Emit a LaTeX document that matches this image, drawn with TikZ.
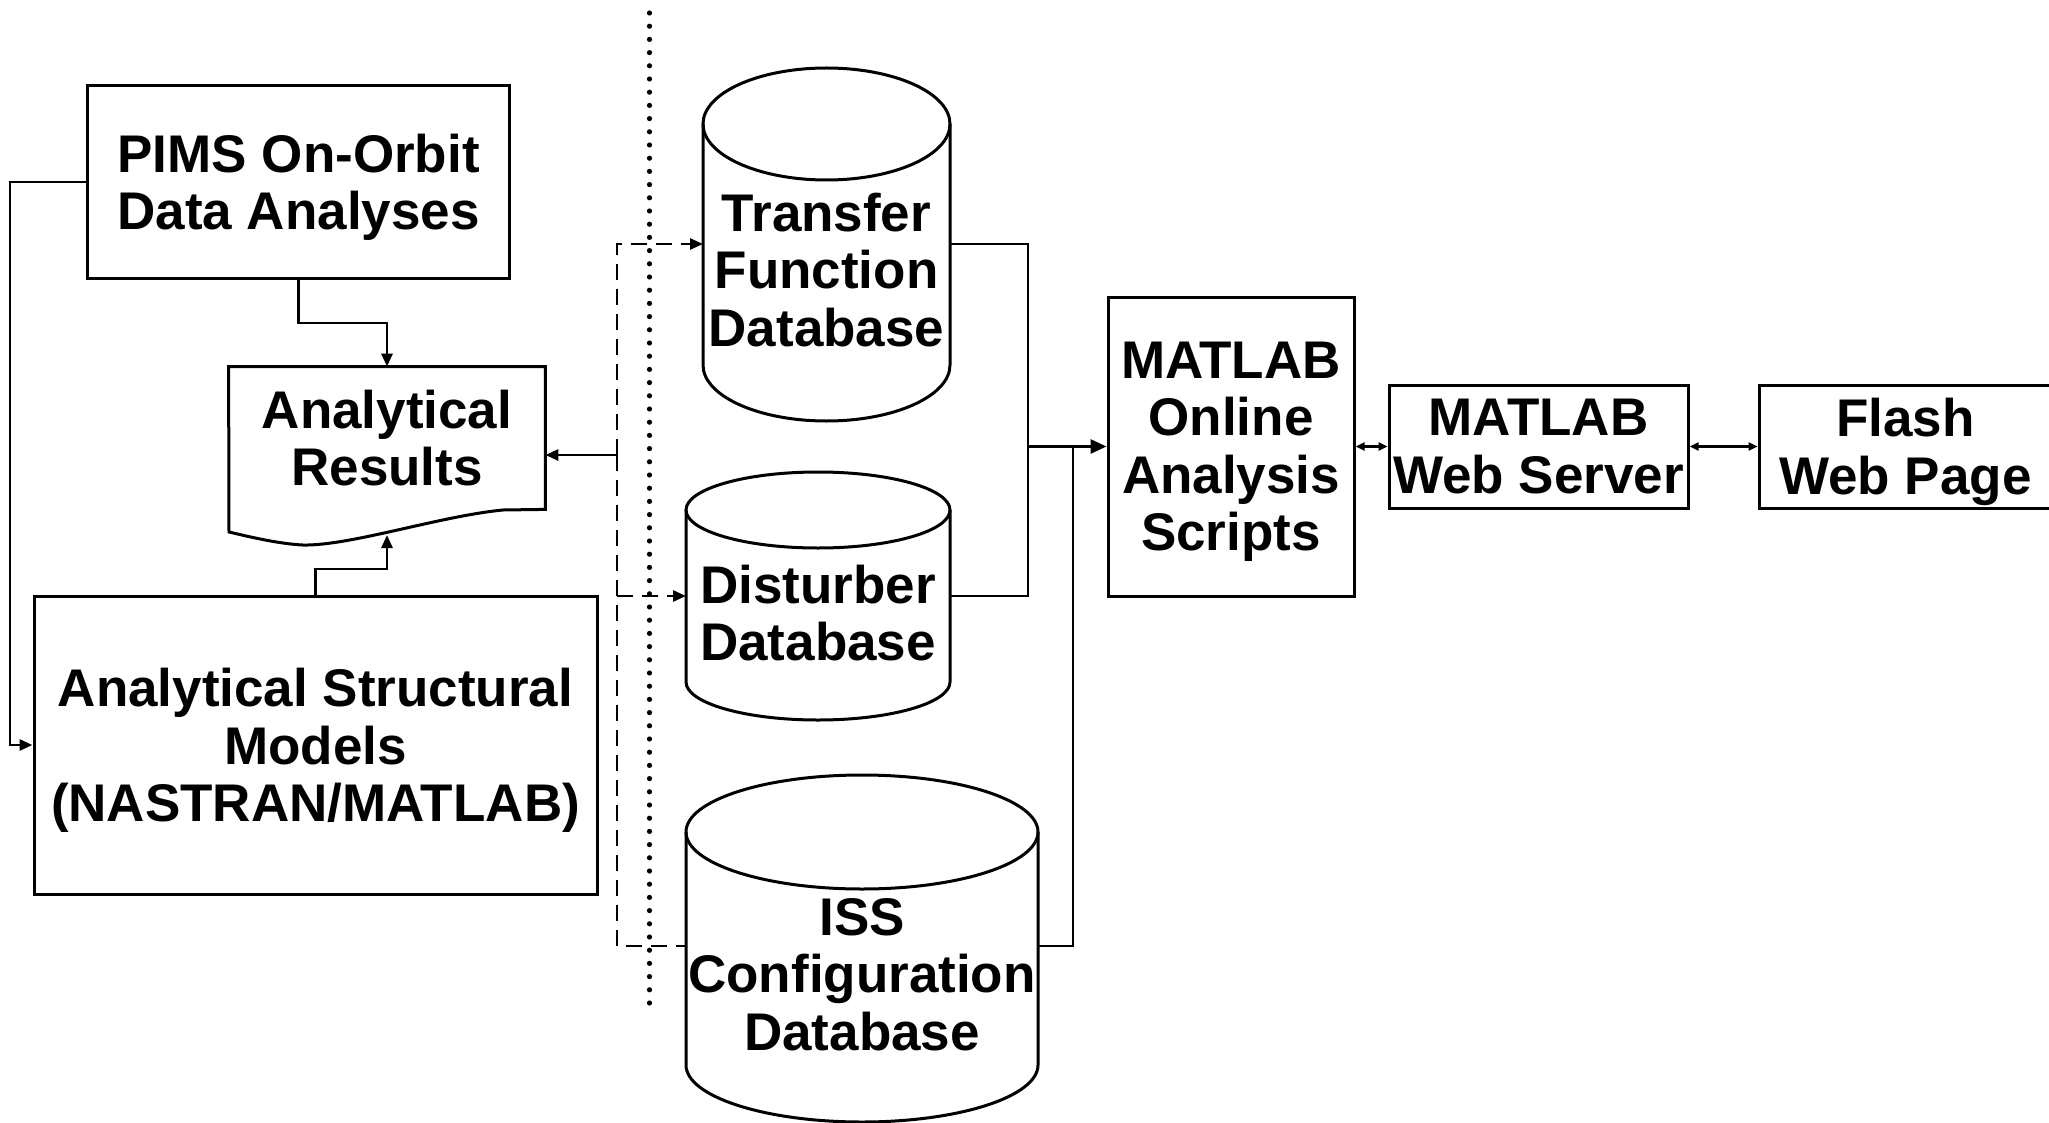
\documentclass[tikz,border=0pt]{standalone}
\usepackage{fontspec}
\setmainfont{Liberation Sans}
\usetikzlibrary{arrows.meta,calc}
\newcommand\dbcyl[5]{%
  \draw[box] (#1,#2) ellipse[x radius=#4, y radius=#5];
  \draw[box] ({#1-#4},#2) -- ({#1-#4},#3) arc[start angle=180,end angle=360,x radius=#4,y radius=#5] -- ({#1+#4},#2);
}
\begin{document}
\begin{tikzpicture}[x=0.5pt,y=0.5pt,
  box/.style={draw, line width=1.5pt},
  lbl/.style={font=\bfseries\fontsize{26.5}{28.75}\selectfont, align=center, inner sep=0pt, text depth=0pt},
  conn/.style={line width=1.4pt},
  arr/.style={conn,-{Triangle[length=6.5pt,width=5.5pt]}},
  bigarr/.style={conn,-{Triangle[length=8pt,width=7pt]}},
  darr/.style={conn,{Triangle[length=4.5pt,width=4pt]}-{Triangle[length=4.5pt,width=4pt]}},
  dsh/.style={conn,dash pattern=on 8pt off 4.5pt},
  dsharr/.style={dsh,-{Triangle[length=6.5pt,width=5.5pt]}},
  dotln/.style={line width=2.6pt, line cap=round, dash pattern=on 0pt off 6.6pt}]
\clip (0,0) rectangle (2049,-1123);

% boxes
\node[box,lbl,minimum width=211pt,minimum height=96pt] (pims) at (298.6,-182) {PIMS On-Orbit\\Data Analyses};
\node[lbl,minimum width=158pt,minimum height=71pt] (ar) at (387,-438) {Analytical\\Results};
\draw[box] (ar.north west) -- (ar.north east) -- (ar.south east) -- (503,-510)
  .. controls (440,-516) and (350,-546) .. (303,-545)
  .. controls (280,-544) and (250,-537) .. (229,-532) -- cycle;
\node[box,lbl,minimum width=281.5pt,minimum height=149pt] (as) at (315.5,-745) {Analytical Structural\\Models\\(NASTRAN/MATLAB)};
\node[box,lbl,minimum width=123pt,minimum height=149.5pt] (mo) at (1231,-446.5) {MATLAB\\Online\\Analysis\\Scripts};
\node[box,lbl,minimum width=149.5pt,minimum height=61.5pt] (ws) at (1538.5,-446.5) {MATLAB\\Web Server};
\node[box,lbl,minimum width=146.5pt,minimum height=61.5pt] (fl) at (1905.5,-446.5) {Flash\\Web Page};

% databases
\dbcyl{826.5}{-124}{-365}{123.5}{56}
\dbcyl{818}{-510}{-682}{132}{38}
\dbcyl{862}{-832}{-1065}{176}{57}
\node[lbl] (tf) at (826.5,-269.5) {Transfer\\Function\\Database};
\node[lbl] (dd) at (818,-613) {Disturber\\Database};
\node[lbl] (iss) at (862,-974) {ISS\\Configuration\\Database};
\coordinate (tfW) at (703,-244);
\coordinate (tfE) at (950,-244);
\coordinate (ddW) at (686,-596);
\coordinate (ddE) at (950,-596);
\coordinate (issW) at (686,-946);
\coordinate (issE) at (1038,-946);

% dotted separator
\coordinate (d1) at (649.5,-13);
\coordinate (d2) at (649.5,-1008);
\draw[dotln] (d1) -- (d2);

% left side connectors
\draw[arr] (pims.south) -- (pims.south |- 0,-323) -| (ar.north);
\coordinate (arB) at (387,-535);
\draw[arr] (as.north) -- (as.north |- 0,-569) -| (arB);
\draw[arr] (pims.west) -- (10,-182) |- (as.west);

% dashed bus
\coordinate (bus) at (617,-455);
\draw[arr] (bus) -- (ar.east |- bus);
\draw[dsharr] (bus) |- (tfW);
\draw[dsh] (bus) |- (issW);
\draw[dsharr] (bus |- ddW) -- (ddW);

% right side connectors
\coordinate (j1) at (1028,-446.5);
\coordinate (j2) at (1073,-446.5);
\draw[conn] (tfE) -| (j1) |- (ddE);
\draw[conn] (issE) -| (j2);
\draw[bigarr] (j1) -- (mo.west);
\draw[darr] (mo.east) -- (ws.west);
\draw[darr] (ws.east) -- (fl.west);
\end{tikzpicture}
\end{document}
